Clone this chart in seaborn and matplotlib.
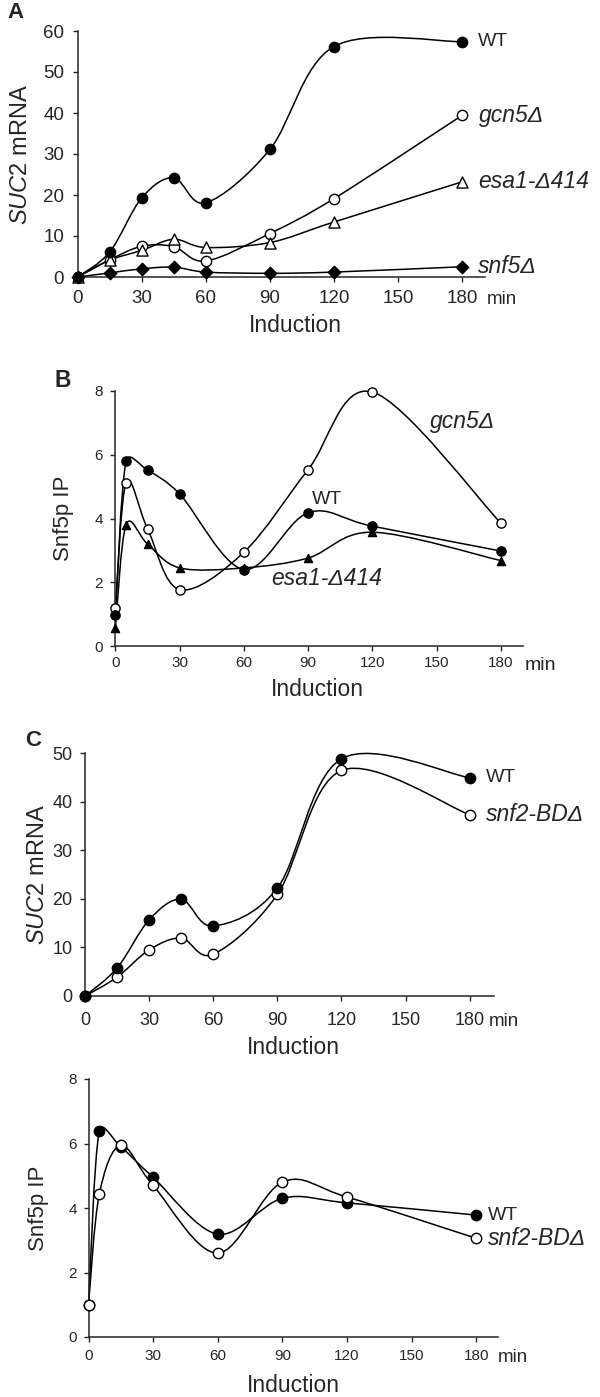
import numpy as np
import matplotlib
matplotlib.use('Agg')
import matplotlib.pyplot as plt
import seaborn as sns
from matplotlib.path import Path
from matplotlib.patches import PathPatch

# ---------- data ----------
# A: SUC2 mRNA
a_time = [0, 15, 30, 45, 60, 90, 120, 180]
a_wt = [0, 6.1, 19.3, 24.2, 18.1, 31.1, 56.2, 57.4]
a_gcn5 = [0, 4.2, 7.5, 7.4, 3.9, 10.6, 19.1, 39.4]
a_esa1 = [0, 4.1, 6.5, 9.2, 7.2, 8.4, 13.4, 23.2]
a_snf5 = [0, 1.0, 2.0, 2.4, 1.2, 0.9, 1.2, 2.5]

# B: Snf5p IP
b_time = [0, 5, 15, 30, 60, 90, 120, 180]
b_wt = [0.96, 5.8, 5.52, 4.77, 2.4, 4.18, 3.76, 2.98]
b_gcn5 = [1.19, 5.12, 3.68, 1.77, 2.94, 5.53, 7.97, 3.86]
b_esa1 = [0.58, 3.8, 3.2, 2.45, 2.45, 2.76, 3.57, 2.68]

# C: SUC2 mRNA
c_time = [0, 15, 30, 45, 60, 90, 120, 180]
c_wt = [0, 5.8, 15.7, 19.9, 14.4, 22.2, 48.8, 44.9]
c_snf2 = [0, 3.9, 9.5, 11.9, 8.6, 20.9, 46.4, 37.3]

# D: Snf5p IP
d_time = [0, 5, 15, 30, 60, 90, 120, 180]
d_wt = [1.0, 6.38, 5.9, 4.95, 3.19, 4.3, 4.16, 3.78]
d_snf2 = [1.0, 4.42, 5.94, 4.7, 2.6, 4.8, 4.34, 3.06]

x_ticks = [0, 30, 60, 90, 120, 150, 180]

sns.set_style('ticks')
plt.rcParams['font.family'] = ['Liberation Sans', 'DejaVu Sans']
plt.rcParams['mathtext.fontset'] = 'custom'
plt.rcParams['mathtext.it'] = 'Liberation Sans:italic'
plt.rcParams['mathtext.rm'] = 'Liberation Sans'

W, H = 600, 1397
fig = plt.figure(figsize=(W / 100, H / 100), dpi=100)
fig.patch.set_facecolor('white')


def smooth_path(ax, xs, ys):
    # excel-like smoothed line: bezier segments, tangents limited on screen
    pts = ax.transData.transform(np.column_stack([xs, ys]).astype(float))
    n = len(pts)
    verts = [pts[0]]
    codes = [Path.MOVETO]
    for i in range(n - 1):
        p0 = pts[max(i - 1, 0)]
        p1 = pts[i]
        p2 = pts[i + 1]
        p3 = pts[min(i + 2, n - 1)]
        seg = np.hypot(*(p2 - p1))
        t1 = (p2 - p0) / 6
        t2 = (p3 - p1) / 6
        for t in (t1, t2):
            ln = np.hypot(*t)
            if ln > 0.5 * seg:
                t *= 0.5 * seg / ln
        verts += [p1 + t1, p2 - t2, p2]
        codes += [Path.CURVE4] * 3
    verts = ax.transData.inverted().transform(np.array(verts))
    return Path(verts, codes)


def series(ax, xs, ys, marker, face, size):
    ax.add_patch(PathPatch(smooth_path(ax, xs, ys), fill=False, edgecolor='black',
                           lw=1.1, zorder=2, clip_on=False))
    sns.scatterplot(x=xs, y=ys, marker=marker, s=size, color=face,
                    edgecolor='black', linewidth=1.0, ax=ax, zorder=3,
                    clip_on=False, legend=False)


def make_axes(px_left, px_right, px_top, px_bottom, x_end, ymax, yticks,
              tick_fs, xpad, ypad, ylabel, ylab_fs, ylab_x, xlab_x, xlab_dy,
              min_dx, min_dy, min_fs):
    ax = fig.add_axes([px_left / W, 1 - px_bottom / H,
                       (px_right - px_left) / W, (px_bottom - px_top) / H])
    ax.set_xlim(0, x_end)
    ax.set_ylim(0, ymax)
    ax.set_xticks(x_ticks)
    ax.set_yticks(yticks)
    sns.despine(ax=ax)
    for s in ['left', 'bottom']:
        ax.spines[s].set_linewidth(1.1)
    ax.tick_params(axis='both', direction='out', length=3.8, width=1.0,
                   labelsize=tick_fs)
    ax.tick_params(axis='x', pad=xpad)
    ax.tick_params(axis='y', pad=ypad)
    ax.set_ylabel(ylabel, fontsize=ylab_fs)
    ax.yaxis.set_label_coords(ylab_x, 0.5)
    ax.annotate('Induction', xy=(xlab_x, 0), xycoords='axes fraction',
                xytext=(0, -xlab_dy), textcoords='offset pixels',
                ha='center', va='center', fontsize=16.5)
    ax.annotate('min', xy=(1, 0), xycoords='axes fraction',
                xytext=(min_dx, -min_dy), textcoords='offset pixels',
                ha='left', va='center', fontsize=min_fs)
    return ax


def end_label(ax, x, y, text, dx, italic=True, fs=16.5):
    ax.annotate(text, xy=(x, y), xytext=(dx, 0), textcoords='offset pixels',
                ha='left', va='center', fontsize=fs,
                style='italic' if italic else 'normal')


# ---------- A ----------
axA = make_axes(77.7, 485, 31, 277, 190.8, 60, [0, 10, 20, 30, 40, 50, 60],
                13.5, 5.3, 6, r'$\mathit{SUC2}$ mRNA', 17, -0.112,
                0.534, 48, 2, 23, 13.5)
series(axA, a_time, a_snf5, 'D', 'black', 40)
series(axA, a_time, a_gcn5, 'o', 'white', 55)
series(axA, a_time, a_esa1, '^', 'white', 64)
series(axA, a_time, a_wt, 'o', 'black', 55)
end_label(axA, a_time[-1], a_wt[-1], 'WT', 16, italic=False, fs=14)
end_label(axA, a_time[-1], a_gcn5[-1], 'gcn5Δ', 17)
end_label(axA, a_time[-1], a_esa1[-1], 'esa1-Δ414', 16)
end_label(axA, a_time[-1], a_snf5[-1], 'snf5Δ', 16)

# ---------- B ----------
axB = make_axes(115.4, 523, 391, 646, 190.4, 8, [0, 2, 4, 6, 8],
                11, 3.1, 5, 'Snf5p IP', 16, -0.102,
                0.495, 44, 2, 19, 14)
series(axB, b_time, b_esa1, '^', 'black', 34)
series(axB, b_time, b_gcn5, 'o', 'white', 44)
series(axB, b_time, b_wt, 'o', 'black', 44)
axB.text(147, 7.03, 'gcn5Δ', style='italic', fontsize=16.5, va='center')
axB.text(91.6, 4.61, 'WT', fontsize=14, va='center')
axB.text(72.8, 2.13, 'esa1-Δ414', style='italic', fontsize=16.5, va='center')

# ---------- C ----------
axC = make_axes(85.2, 493.5, 753, 996, 191.2, 50, [0, 10, 20, 30, 40, 50],
                13, 7.8, 5.5, r'$\mathit{SUC2}$ mRNA', 17, -0.089,
                0.509, 51, -4.5, 26, 13.5)
series(axC, c_time, c_snf2, 'o', 'white', 56)
series(axC, c_time, c_wt, 'o', 'black', 56)
end_label(axC, c_time[-1], c_wt[-1], 'WT', 16.5, italic=False, fs=14)
end_label(axC, c_time[-1], c_snf2[-1], 'snf2-BDΔ', 16.5)

# ---------- D ----------
axD = make_axes(88.5, 498, 1079, 1337, 190.1, 8, [0, 2, 4, 6, 8],
                11, 4.5, 4.5, 'Snf5p IP', 16, -0.096,
                0.501, 48, 0, 20, 13.5)
series(axD, d_time, d_wt, 'o', 'black', 56)
series(axD, d_time, d_snf2, 'o', 'white', 56)
end_label(axD, d_time[-1], d_wt[-1], 'WT', 11.5, italic=False, fs=14)
end_label(axD, d_time[-1], d_snf2[-1], 'snf2-BDΔ', 11.5)

# panel letters
fig.text(7 / W, 1 - 12 / H, 'A', fontsize=16, fontweight='bold', va='center')
fig.text(54 / W, 1 - 380 / H, 'B', fontsize=16.5, fontweight='bold', va='center')
fig.text(25 / W, 1 - 740 / H, 'C', fontsize=16, fontweight='bold', va='center')

fig.savefig('out.png', dpi=100, facecolor='white')
